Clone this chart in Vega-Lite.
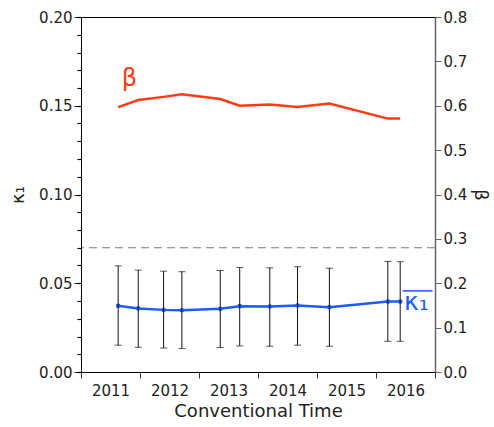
{
  "$schema": "https://vega.github.io/schema/vega-lite/v6.json",
  "width": 354,
  "height": 355,
  "autosize": {"type": "none"},
  "padding": {"left": 81, "top": 17, "right": 59, "bottom": 55},
  "config": {
    "view": {"stroke": "#000", "strokeWidth": 1},
    "font": "DejaVu Sans",
    "axis": {"labelFont": "DejaVu Sans", "titleFont": "DejaVu Sans", "labelColor": "#222", "titleColor": "#222", "titleFontWeight": "normal", "grid": false}
  },
  "datasets": {
    "kappa": [
      {"t": 2011.13, "k": 0.0373, "lo": 0.0151, "hi": 0.0598},
      {"t": 2011.47, "k": 0.0358, "lo": 0.0139, "hi": 0.0574},
      {"t": 2011.90, "k": 0.0350, "lo": 0.0135, "hi": 0.0568},
      {"t": 2012.21, "k": 0.0348, "lo": 0.0132, "hi": 0.0565},
      {"t": 2012.86, "k": 0.0356, "lo": 0.0138, "hi": 0.0572},
      {"t": 2013.19, "k": 0.0371, "lo": 0.0147, "hi": 0.0589},
      {"t": 2013.70, "k": 0.0369, "lo": 0.0145, "hi": 0.0587},
      {"t": 2014.17, "k": 0.0375, "lo": 0.0151, "hi": 0.0593},
      {"t": 2014.71, "k": 0.0365, "lo": 0.0145, "hi": 0.0585},
      {"t": 2015.70, "k": 0.0397, "lo": 0.0173, "hi": 0.0623},
      {"t": 2015.91, "k": 0.0397, "lo": 0.0173, "hi": 0.0621}
    ],
    "beta": [
      {"t": 2011.13, "b": 0.597},
      {"t": 2011.47, "b": 0.613},
      {"t": 2011.90, "b": 0.620},
      {"t": 2012.21, "b": 0.626},
      {"t": 2012.86, "b": 0.615},
      {"t": 2013.19, "b": 0.600},
      {"t": 2013.70, "b": 0.603},
      {"t": 2014.17, "b": 0.597},
      {"t": 2014.71, "b": 0.605},
      {"t": 2015.70, "b": 0.571},
      {"t": 2015.91, "b": 0.571}
    ],
    "ref": [{"k": 0.07}],
    "klabel": [{"t": 2015.975, "k": 0.0352, "text": "κ₁"}],
    "kbar": [{"t": 2015.95, "t2": 2016.46, "k": 0.0457}],
    "blabel": [{"t": 2011.19, "b": 0.644, "text": "β"}]
  },
  "layer": [
    {
      "layer": [
        {
          "data": {"name": "kappa"},
          "mark": {"type": "line", "color": "#1a5cff", "strokeWidth": 2.5, "point": {"filled": true, "size": 22, "color": "#1a5cff"}},
          "encoding": {
            "x": {
              "field": "t", "type": "quantitative",
              "scale": {"domain": [2010.5, 2016.5], "nice": false, "zero": false},
              "axis": {
                "title": "Conventional Time", "titleFontSize": 18, "titlePadding": 4,
                "values": [2010.5, 2011.5, 2012.5, 2013.5, 2014.5, 2015.5, 2016.5],
                "labelExpr": "datum.value > 2016 ? '' : format(datum.value + 0.5, 'd')",
                "labelOffset": 29.5, "tickSize": 6, "labelFontSize": 15, "labelPadding": 5,
                "labelFlush": false, "labelOverlap": false, "labelBound": false,
                "domainColor": "#000", "tickColor": "#333"
              }
            },
            "y": {
              "field": "k", "type": "quantitative",
              "scale": {"domain": [0, 0.2], "nice": false},
              "axis": {
                "orient": "left", "title": "κ₁", "titleFontSize": 18, "titlePadding": 11,
                "values": [0, 0.05, 0.1, 0.15, 0.2],
                "format": ".2f", "tickSize": 7,
                "labelFontSize": 15, "labelPadding": 2,
                "labelOverlap": false, "labelBound": false, "labelFlush": false,
                "domainColor": "#000", "tickColor": "#222"
              }
            }
          }
        },
        {
          "data": {"name": "kappa"},
          "mark": {"type": "rule", "color": "#111", "strokeWidth": 1},
          "encoding": {
            "x": {"field": "t", "type": "quantitative", "scale": {"domain": [2010.5, 2016.5], "nice": false, "zero": false}},
            "y": {"field": "lo", "type": "quantitative", "scale": {"domain": [0, 0.2], "nice": false}},
            "y2": {"field": "hi"}
          }
        },
        {
          "data": {"name": "kappa"},
          "mark": {"type": "tick", "orient": "horizontal", "color": "#111", "size": 7, "thickness": 1},
          "encoding": {
            "x": {"field": "t", "type": "quantitative", "scale": {"domain": [2010.5, 2016.5], "nice": false, "zero": false}},
            "y": {"field": "lo", "type": "quantitative", "scale": {"domain": [0, 0.2], "nice": false}}
          }
        },
        {
          "data": {"name": "kappa"},
          "mark": {"type": "tick", "orient": "horizontal", "color": "#111", "size": 7, "thickness": 1},
          "encoding": {
            "x": {"field": "t", "type": "quantitative", "scale": {"domain": [2010.5, 2016.5], "nice": false, "zero": false}},
            "y": {"field": "hi", "type": "quantitative", "scale": {"domain": [0, 0.2], "nice": false}}
          }
        },
        {
          "data": {"name": "klabel"},
          "mark": {"type": "text", "color": "#1a5cff", "fontSize": 25, "align": "left", "baseline": "alphabetic", "font": "DejaVu Sans"},
          "encoding": {
            "x": {"field": "t", "type": "quantitative", "scale": {"domain": [2010.5, 2016.5], "nice": false, "zero": false}},
            "y": {"field": "k", "type": "quantitative", "scale": {"domain": [0, 0.2], "nice": false}},
            "text": {"field": "text"}
          }
        },
        {
          "data": {"name": "kbar"},
          "mark": {"type": "rule", "color": "#1a5cff", "strokeWidth": 1.5},
          "encoding": {
            "x": {"field": "t", "type": "quantitative", "scale": {"domain": [2010.5, 2016.5], "nice": false, "zero": false}},
            "x2": {"field": "t2"},
            "y": {"field": "k", "type": "quantitative", "scale": {"domain": [0, 0.2], "nice": false}}
          }
        }
      ]
    },
    {
      "layer": [
        {
          "data": {"name": "beta"},
          "mark": {"type": "line", "color": "#ff3a14", "strokeWidth": 2.5},
          "encoding": {
            "x": {"field": "t", "type": "quantitative", "scale": {"domain": [2010.5, 2016.5], "nice": false, "zero": false}},
            "y": {
              "field": "b", "type": "quantitative",
              "scale": {"domain": [0, 0.8], "nice": false},
              "axis": {
                "orient": "right", "title": "β", "titleFontSize": 18, "titlePadding": 4,
                "values": [0, 0.1, 0.2, 0.3, 0.4, 0.5, 0.6, 0.7, 0.8],
                "format": ".1f", "tickSize": 6, "labelFontSize": 15, "labelPadding": 2,
                "labelOverlap": false, "labelBound": false, "labelFlush": false,
                "domainColor": "#666", "domainWidth": 1.5, "tickColor": "#666"
              }
            }
          }
        },
        {
          "data": {"name": "blabel"},
          "mark": {"type": "text", "color": "#ff3a14", "fontSize": 24, "align": "left", "baseline": "alphabetic", "font": "DejaVu Sans"},
          "encoding": {
            "x": {"field": "t", "type": "quantitative", "scale": {"domain": [2010.5, 2016.5], "nice": false, "zero": false}},
            "y": {"field": "b", "type": "quantitative", "scale": {"domain": [0, 0.8], "nice": false}},
            "text": {"field": "text"}
          }
        }
      ]
    },
    {
      "data": {"name": "ref"},
      "mark": {"type": "rule", "color": "#777", "strokeWidth": 1, "strokeDash": [8, 5]},
      "encoding": {
        "y": {
          "field": "k", "type": "quantitative",
          "scale": {"domain": [0, 0.2], "nice": false},
          "axis": {
            "orient": "left", "title": "", "labelExpr": "''", "domainColor": "#000",
            "values": [0, 0.01, 0.02, 0.03, 0.04, 0.05, 0.06, 0.07, 0.08, 0.09, 0.1, 0.11, 0.12, 0.13, 0.14, 0.15, 0.16, 0.17, 0.18, 0.19, 0.2],
            "tickSize": 4, "tickWidth": 1.2, "tickColor": "#000", "zindex": 1
          }
        }
      }
    }
  ],
  "resolve": {"scale": {"y": "independent"}}
}
